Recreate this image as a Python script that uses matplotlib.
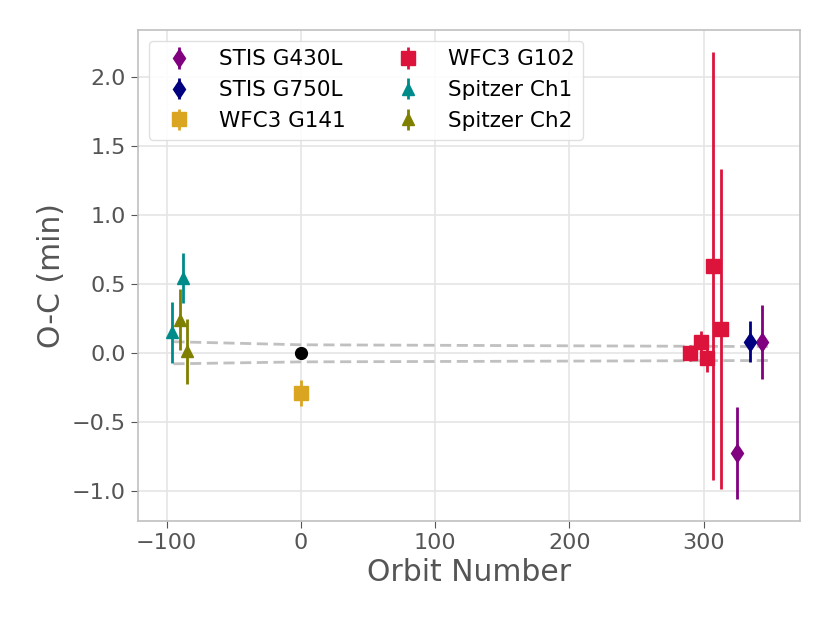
import numpy as np
import matplotlib
matplotlib.use('Agg')
import matplotlib.pyplot as plt

# observed minus calculated transit times per instrument
g430_x = [325.1, 343.8]
g430_y = [-0.727, 0.08]
g430_e = [0.333, 0.27]

g750_x = [334.6]
g750_y = [0.08]
g750_e = [0.15]

g141_x = [0.0]
g141_y = [-0.29]
g141_e = [0.095]

g102_x = [290.3, 297.8, 302.8, 307.2, 313.2]
g102_y = [0.0, 0.077, -0.04, 0.63, 0.175]
g102_e = [0.06, 0.08, 0.10, 1.55, 1.16]

ch1_x = [-95.8, -88.0]
ch1_y = [0.148, 0.54]
ch1_e = [0.22, 0.18]

ch2_x = [-89.8, -84.6]
ch2_y = [0.24, 0.01]
ch2_e = [0.22, 0.235]

ref_x = [0.0]
ref_y = [0.0]
ref_e = [0.02]

# ephemeris uncertainty envelope
env_x = [-95, 0, 350]
env_hi = [0.08, 0.058, 0.045]
env_lo = [-0.08, -0.066, -0.056]

series = [
    (g430_x, g430_y, g430_e, 'd', '#800080', 'STIS G430L'),
    (g750_x, g750_y, g750_e, 'd', '#000080', 'STIS G750L'),
    (g141_x, g141_y, g141_e, 's', '#DAA520', 'WFC3 G141'),
    (g102_x, g102_y, g102_e, 's', '#DC143C', 'WFC3 G102'),
    (ch1_x, ch1_y, ch1_e, '^', '#008B8B', 'Spitzer Ch1'),
    (ch2_x, ch2_y, ch2_e, '^', '#808000', 'Spitzer Ch2'),
]

fig = plt.figure(figsize=(8.3, 6.23), dpi=100)
ax = fig.add_axes([0.166, 0.1637, 0.798, 0.788])

for env in (env_hi, env_lo):
    ax.plot(env_x, env, color='#c0c0c0', lw=2, dashes=(4, 2), zorder=1)

for xs, ys, es, mk, col, lab in series:
    ms = {'d': 9.5, 's': 9.5, '^': 9}[mk]
    ax.errorbar(xs, ys, yerr=es, fmt=mk, color=col, ms=ms, elinewidth=2,
                capsize=0, label=lab, zorder=3)

ax.errorbar(ref_x, ref_y, yerr=ref_e, fmt='o', color='black', ms=8.5,
            elinewidth=2, zorder=4)

ax.set_xlim(-121.6, 372)
ax.set_ylim(-1.22, 2.34)
ax.set_xticks([-100, 0, 100, 200, 300])
ax.set_yticks([-1.0, -0.5, 0.0, 0.5, 1.0, 1.5, 2.0])
ax.grid(True, color='#e5e5e5', lw=1.2)
ax.set_axisbelow(True)
for s in ax.spines.values():
    s.set_color('#c0c0c0')
    s.set_linewidth(1.2)
ax.tick_params(colors='#555555', labelsize=16, length=5, color='#555555')
ax.set_xlabel('Orbit Number', fontsize=21.5, color='#555555')
ax.set_ylabel('O-C (min)', fontsize=21.5, color='#555555')

ax.legend(loc='upper left', ncol=2, fontsize=15.5, handletextpad=0.85,
          columnspacing=1.9, labelspacing=0.5, borderaxespad=0.5,
          framealpha=0.9, edgecolor='#dddddd')

plt.savefig('out.png', dpi=100)
